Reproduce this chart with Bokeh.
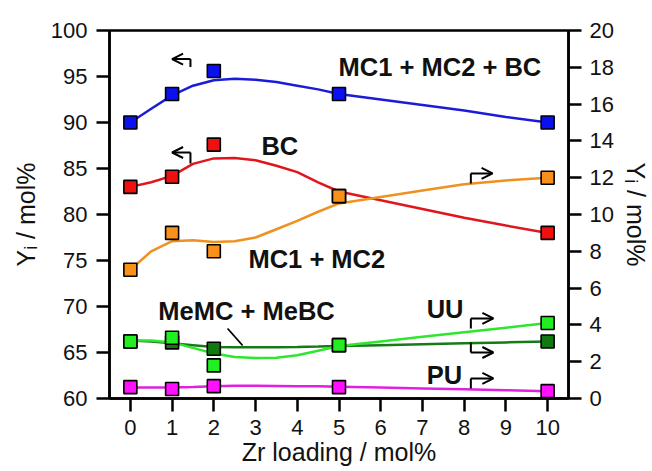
from bokeh.plotting import figure
from bokeh.models import Range1d, LinearAxis, FixedTicker, Arrow, OpenHead, Label
from bokeh.embed import file_html
from bokeh.resources import INLINE

# ---------------- data ----------------
zr_loading = [0, 1, 2, 5, 10]
x_tick_labels = [0, 1, 2, 3, 4, 5, 6, 7, 8, 9, 10]
left_ticks = [60, 65, 70, 75, 80, 85, 90, 95, 100]
right_ticks = [0, 2, 4, 6, 8, 10, 12, 14, 16, 18, 20]

# left axis series (mol%)
mc_bc = [90.0, 93.1, 95.6, 93.1, 90.0]        # MC1 + MC2 + BC
bc = [83.0, 84.1, 87.6, 82.0, 78.0]           # BC
# right axis series (mol%)
mc = [7.0, 9.0, 8.0, 11.0, 12.0]              # MC1 + MC2
uu = [3.1, 3.3, 1.8, 2.9, 4.1]                # UU
memc_mebc = [3.1, 3.05, 2.7, 2.9, 3.1]        # MeMC + MeBC
pu = [0.62, 0.52, 0.67, 0.62, 0.40]           # PU

# smooth trend curves
x_fit = [0, 0.5, 1, 1.5, 2, 2.5, 3, 3.5, 4, 4.5, 5, 6, 7, 8, 9, 10]
fit_mc_bc = [90.0, 91.5, 92.95, 94.0, 94.6, 94.75, 94.65, 94.4, 94.0, 93.6, 93.1, 92.5, 91.9, 91.3, 90.6, 90.0]
fit_bc = [83.0, 83.5, 84.2, 85.5, 86.1, 86.15, 85.9, 85.3, 84.6, 83.5, 82.5, 81.55, 80.6, 79.65, 78.8, 78.0]
fit_mc = [7.0, 8.0, 8.55, 8.6, 8.5, 8.55, 8.75, 9.2, 9.65, 10.15, 10.6, 10.95, 11.3, 11.65, 11.85, 12.0]
fit_uu = [3.15, 3.15, 3.05, 2.75, 2.45, 2.25, 2.2, 2.22, 2.35, 2.6, 2.85, 3.1, 3.35, 3.6, 3.85, 4.1]
fit_memc = [3.15, 3.1, 3.0, 2.9, 2.8, 2.78, 2.78, 2.79, 2.8, 2.82, 2.85, 2.9, 2.95, 3.0, 3.05, 3.1]
fit_pu = [0.6, 0.6, 0.6, 0.63, 0.67, 0.69, 0.69, 0.68, 0.67, 0.66, 0.64, 0.6, 0.55, 0.5, 0.45, 0.4]

FONT = "Liberation Sans"

p = figure(width=652, height=471, output_backend="svg", toolbar_location=None,
           x_range=Range1d(-0.5, 10.5), y_range=Range1d(60, 100),
           min_border_left=109, min_border_right=84, min_border_top=30, min_border_bottom=73)
p.extra_y_ranges = {"right": Range1d(0, 20)}
p.xgrid.visible = False
p.ygrid.visible = False
p.background_fill_color = "white"
p.border_fill_color = "white"
p.outline_line_color = "black"
p.outline_line_width = 2.5


def style_axis(ax, standoff_label, label_standoff):
    ax.axis_line_width = 2.5
    ax.axis_line_color = "black"
    ax.major_tick_line_width = 2.5
    ax.major_tick_line_color = "black"
    ax.major_tick_out = 13
    ax.major_tick_in = 0
    ax.minor_tick_line_color = None
    ax.major_label_text_font = FONT
    ax.major_label_text_font_size = "22px"
    ax.major_label_text_color = "#111111"
    ax.major_label_standoff = standoff_label
    ax.axis_label_text_font = FONT
    ax.axis_label_text_font_size = "25px"
    ax.axis_label_text_font_style = "normal"
    ax.axis_label_text_color = "#111111"
    ax.axis_label_standoff = label_standoff


xa = p.xaxis[0]
xa.ticker = FixedTicker(ticks=x_tick_labels)
xa.axis_label = "Zr loading / mol%"
style_axis(xa, 8, 0)

ya = p.yaxis[0]
ya.ticker = FixedTicker(ticks=left_ticks)
ya.axis_label = "Yᵢ / mol%"
style_axis(ya, 9, 8)

yr = LinearAxis(y_range_name="right", ticker=FixedTicker(ticks=right_ticks), axis_label="Yᵢ / mol%")
style_axis(yr, 8, 5)
p.add_layout(yr, "right")

# ---------------- curves ----------------
c_blue, c_red, c_orange = "#1c1cd8", "#e0161c", "#f0901e"
c_lgreen, c_dgreen, c_mag = "#2ee62e", "#167a16", "#e020e0"
p.line(x_fit, fit_mc_bc, line_color=c_blue, line_width=2.5)
p.line(x_fit, fit_bc, line_color=c_red, line_width=2.5)
p.line(x_fit, fit_mc, line_color=c_orange, line_width=2.5, y_range_name="right")
p.line(x_fit, fit_memc, line_color=c_dgreen, line_width=2.5, y_range_name="right")
p.line(x_fit, fit_uu, line_color=c_lgreen, line_width=2.5, y_range_name="right")
p.line(x_fit, fit_pu, line_color=c_mag, line_width=2.5, y_range_name="right")

# ---------------- markers ----------------
mk = dict(marker="square", size=13, line_color="black", line_width=1.6)
p.scatter(zr_loading, mc_bc, fill_color="#0a10f0", **mk)
p.scatter(zr_loading, bc, fill_color="#f01010", **mk)
p.scatter(zr_loading, mc, fill_color="#f8901a", y_range_name="right", **mk)
p.scatter(zr_loading, memc_mebc, fill_color="#107a10", y_range_name="right", **mk)
p.scatter(zr_loading, uu, fill_color="#22ee22", y_range_name="right", **mk)
p.scatter(zr_loading, pu, fill_color="#ff10ff", y_range_name="right", **mk)

# ---------------- labels ----------------
def lab(x, y, t, rng="default"):
    p.add_layout(Label(x=x, y=y, text=t, y_range_name=rng, y_offset=8, text_font=FONT,
                       text_font_size="25.5px", text_font_style="bold",
                       text_color="#111111", text_baseline="alphabetic", text_align="left"))


lab(4.99, 95.11, "MC1 + MC2 + BC")
lab(3.14, 86.63, "BC")
lab(2.83, 74.27, "MC1 + MC2")
lab(0.67, 68.66, "MeMC + MeBC")
lab(7.10, 68.91, "UU")
lab(7.10, 61.66, "PU")

# pointer line for MeMC + MeBC
p.add_layout(Arrow(end=None, x_start=2.33, y_start=67.61, x_end=2.69, y_end=65.76,
                   line_color="black", line_width=1.8))


# axis-direction arrows: stem + arrowed horizontal
def bent_arrow(xs, y0, y1, xe, rng="default"):
    p.add_layout(Arrow(end=None, x_start=xs, y_start=y0, x_end=xs, y_end=y1,
                       line_color="black", line_width=2, y_range_name=rng))
    p.add_layout(Arrow(end=OpenHead(size=11, line_width=2, line_color="black"),
                       x_start=xs, y_start=y1, x_end=xe, y_end=y1,
                       line_color="black", line_width=2, y_range_name=rng))


bent_arrow(1.44, 96.02, 96.89, 1.00)
bent_arrow(1.44, 85.54, 86.74, 1.00)
bent_arrow(8.16, 11.68, 12.23, 8.68, "right")
bent_arrow(8.16, 3.80, 4.35, 8.70, "right")
bent_arrow(8.16, 3.04, 2.50, 8.70, "right")
bent_arrow(8.16, 0.54, 1.09, 8.70, "right")

open("out.html", "w").write(file_html(p, INLINE))
